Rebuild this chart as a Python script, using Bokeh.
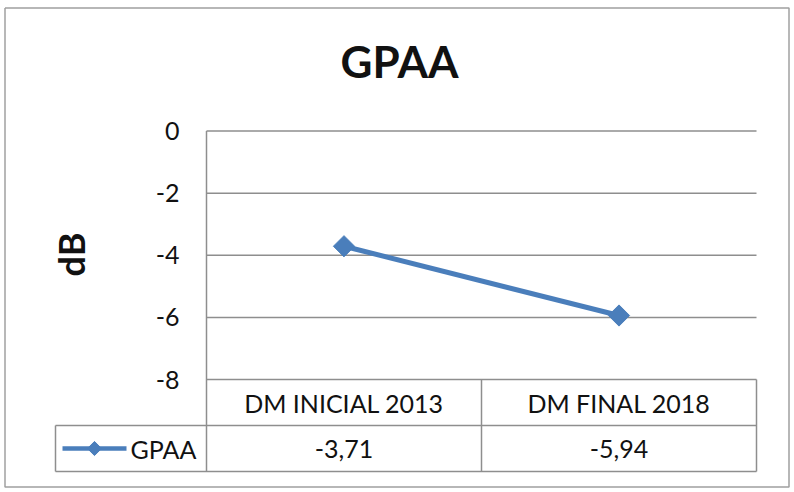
import numpy as np
from bokeh.plotting import figure
from bokeh.models import Range1d
from bokeh.core.properties import value
from bokeh.embed import file_html
from bokeh.resources import INLINE

# ---------------- data ----------------
title_text = "GPAA"
y_axis_label = "dB"
series_name = "GPAA"
categories = ["DM INICIAL 2013", "DM FINAL 2018"]
values = [-3.71, -5.94]
value_labels = ["-3,71", "-5,94"]
y_ticks = [0, -2, -4, -6, -8]
y_tick_labels = ["0", "-2", "-4", "-6", "-8"]

# ---------------- layout (picture pixels) ----------------
W, H = 792, 490
OFF = 0
PX0, PX1 = 206, 756          # plot area left / right
PY_TOP, PY_BOT = 130.5, 379  # y of max / min value
Y_MAX, Y_MIN = max(y_ticks), min(y_ticks)
ROW_MID = 425                # line between header row and value row
ROW_END = 471                # bottom of table
LEG_X = 55                   # left edge of legend cell
BOX = (4.5, 788.5, 7.5, 486.5)  # outer chart border: left, right, top, bottom

BLUE = "#4a7ebb"
GRID = "#8e8e8e"
TXT = "#111111"
FONT = "Lato"
FS = "25px"

n = len(categories)
ppx = (PX1 - PX0) / n
ppy = (PY_BOT - PY_TOP) / (Y_MAX - Y_MIN)


def dx(px):
    return (px - PX0) / ppx


def dy(py):
    return Y_MAX - (py - PY_TOP) / ppy


p = figure(width=W, height=H,
           x_range=Range1d(dx(OFF), dx(OFF + W)),
           y_range=Range1d(dy(OFF + H), dy(OFF)),
           x_axis_type=None, y_axis_type=None, title=None,
           toolbar_location=None, output_backend="svg", min_border=0)
p.outline_line_color = None
p.background_fill_color = "white"
p.border_fill_color = "white"

# outer chart border
bl, br, bt, bb = BOX
p.line(x=[dx(bl), dx(br), dx(br), dx(bl), dx(bl)],
       y=[dy(bt), dy(bt), dy(bb), dy(bb), dy(bt)],
       line_color="#a0a0a0", line_width=1.5)

# gridlines (including the -8 line that tops the data table)
p.segment(x0=[0] * len(y_ticks), x1=[n] * len(y_ticks), y0=y_ticks, y1=y_ticks,
          line_color=GRID, line_width=1.5)
# vertical axis line, running down through the table
p.segment(x0=[0], x1=[0], y0=[Y_MAX], y1=[dy(ROW_END)], line_color=GRID, line_width=1.5)
# table horizontal lines
p.segment(x0=[dx(LEG_X)] * 2, x1=[n] * 2, y0=[dy(ROW_MID), dy(ROW_END)], y1=[dy(ROW_MID), dy(ROW_END)],
          line_color=GRID, line_width=1.5)
# table verticals
p.segment(x0=[dx(LEG_X)], x1=[dx(LEG_X)], y0=[dy(ROW_MID)], y1=[dy(ROW_END)], line_color=GRID, line_width=1.5)
col_edges = list(range(1, n + 1))
p.segment(x0=col_edges, x1=col_edges, y0=[Y_MIN] * n, y1=[dy(ROW_END)] * n, line_color=GRID, line_width=1.5)

# series
xs = [i + 0.5 for i in range(n)]
p.line(x=xs, y=values, line_color=BLUE, line_width=5)
p.scatter(x=xs, y=values, marker="square", angle=np.pi / 4, size=15,
          fill_color=BLUE, line_color=BLUE)

# tick labels
p.text(x=[dx(179)] * len(y_ticks), y=y_ticks, text=y_tick_labels,
       text_font=value(FONT), text_font_size=value(FS), text_color=TXT,
       text_align="right", text_baseline="middle")

# axis title
p.text(x=[dx(70)], y=[dy(254)], text=[y_axis_label], angle=np.pi / 2,
       text_font=value(FONT), text_font_style="bold", text_font_size=value("36px"),
       text_color=TXT, text_align="center", text_baseline="middle")

# chart title
p.text(x=[dx(399)], y=[dy(60)], text=[title_text],
       text_font=value(FONT), text_font_style="bold", text_font_size=value("44px"),
       text_color=TXT, text_align="center", text_baseline="middle")

# table: category row
head_y = (Y_MIN + dy(ROW_MID)) / 2
p.text(x=xs, y=[head_y] * n, text=categories,
       text_font=value(FONT), text_font_size=value(FS), text_color=TXT,
       text_align="center", text_baseline="middle")
# table: value row
val_y = (dy(ROW_MID) + dy(ROW_END)) / 2
p.text(x=xs, y=[val_y] * n, text=value_labels,
       text_font=value(FONT), text_font_size=value(FS), text_color=TXT,
       text_align="center", text_baseline="middle")

# legend key inside the table
p.line(x=[dx(62), dx(126)], y=[val_y, val_y], line_color=BLUE, line_width=4.5)
p.scatter(x=[dx(94)], y=[val_y], marker="square", angle=np.pi / 4, size=10,
          fill_color=BLUE, line_color=BLUE)
p.text(x=[dx(130)], y=[val_y], text=[series_name],
       text_font=value(FONT), text_font_size=value(FS), text_color=TXT,
       text_align="left", text_baseline="middle")

open("out.html", "w").write(file_html(p, INLINE))
